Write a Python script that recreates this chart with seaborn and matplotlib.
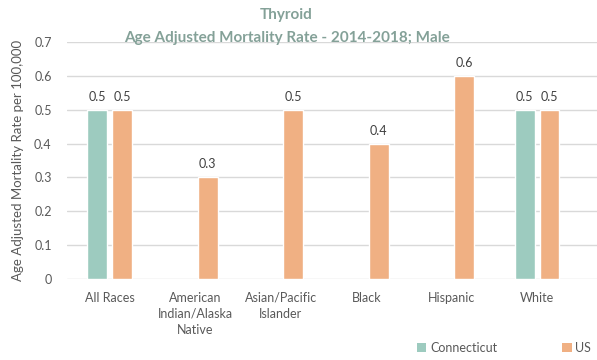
import matplotlib
matplotlib.use("Agg")
import matplotlib.pyplot as plt
from matplotlib.patches import Patch
import seaborn as sns
import pandas as pd

categories = ["All Races", "American\nIndian/Alaska\nNative", "Asian/Pacific\nIslander",
              "Black", "Hispanic", "White"]
connecticut = [0.5, None, None, None, None, 0.5]
us = [0.5, 0.3, 0.5, 0.4, 0.6, 0.5]
series = ["Connecticut", "US"]
colors = {"Connecticut": "#9dcbbf", "US": "#f0b083"}
yticks = [0, 0.1, 0.2, 0.3, 0.4, 0.5, 0.6, 0.7]

rows = []
for cat, ct, u in zip(categories, connecticut, us):
    if ct is not None:
        rows.append({"Race": cat, "Region": "Connecticut", "Rate": ct})
    if u is not None:
        rows.append({"Race": cat, "Region": "US", "Rate": u})
df = pd.DataFrame(rows)

sns.set_style("white")
plt.rcParams["font.family"] = ["Lato", "DejaVu Sans"]

fig = plt.figure(figsize=(5.97, 3.6), dpi=100)
ax = fig.add_axes([67 / 597, 1 - 279 / 360, (597 - 67) / 597, (279 - 42) / 360])

sns.barplot(data=df, x="Race", y="Rate", hue="Region", order=categories,
            hue_order=series, palette=colors, width=0.58, gap=0.2,
            errorbar=None, legend=False, ax=ax, saturation=1)

tick_color = "#595959"
for cont in ax.containers:
    ax.bar_label(cont, fmt="%.1f", padding=5, fontsize=9, color="#404040")

ax.set_ylim(0, 0.7)
ax.set_yticks(yticks)
ax.set_yticklabels(["0" if t == 0 else f"{t:.1f}" for t in yticks])
ax.set_xlim(-0.5, 5.7)
ax.yaxis.grid(True, color="#d9d9d9", linewidth=1)
ax.set_axisbelow(True)
for s in ax.spines.values():
    s.set_visible(False)
ax.tick_params(axis="both", length=0, labelsize=9, colors=tick_color)
ax.tick_params(axis="y", pad=11)
ax.tick_params(axis="x", pad=9)
for lbl in ax.get_xticklabels():
    lbl.set_linespacing(1.45)
ax.set_xlabel("")
ax.set_ylabel("Age Adjusted Mortality Rate per 100,000", fontsize=9.5,
              color=tick_color, labelpad=7)

title_color = "#84a198"
fig.text(0.48, 1 - 15 / 360, "Thyroid", ha="center", va="center",
         fontsize=11, fontweight="bold", color=title_color)
fig.text(0.48, 1 - 38 / 360, "Age Adjusted Mortality Rate - 2014-2018; Male",
         ha="center", va="center", fontsize=11, fontweight="bold", color=title_color)

handles = [Patch(facecolor=colors[s], edgecolor="none") for s in series]
fig.legend(handles, series, loc="center left", bbox_to_anchor=(412 / 597, 1 - 348 / 360),
           ncol=2, frameon=False, fontsize=9, handlelength=0.75, handleheight=0.75,
           handletextpad=0.3, columnspacing=5.2, labelcolor=tick_color, borderaxespad=0)

fig.savefig("out.png", dpi=100)
